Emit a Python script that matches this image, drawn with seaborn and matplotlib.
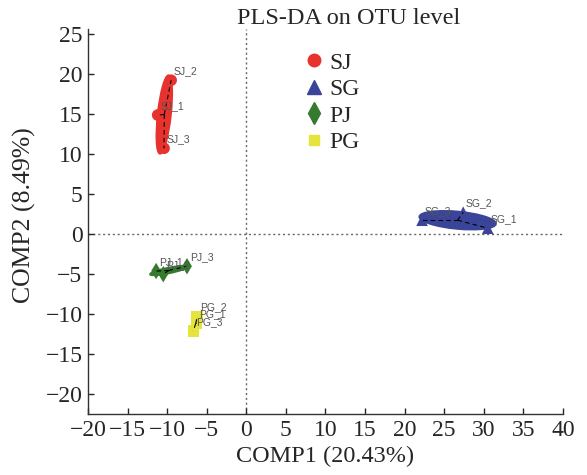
import numpy as np
import pandas as pd
import matplotlib
matplotlib.use("Agg")
import matplotlib.pyplot as plt
from matplotlib import font_manager
from matplotlib.patches import Ellipse
from matplotlib.lines import Line2D
import seaborn as sns

# sample scores
samples = ["SJ_1", "SJ_2", "SJ_3", "SG_1", "SG_2", "SG_3",
           "PJ_1", "PJ_2", "PJ_3", "PG_1", "PG_2", "PG_3"]
groups = ["SJ"] * 3 + ["SG"] * 3 + ["PJ"] * 3 + ["PG"] * 3
comp1 = [-11.2, -9.5, -10.4, 30.5, 27.4, 22.2, -11.4, -10.5, -7.5, -6.3, -6.2, -6.7]
comp2 = [14.9, 19.25, 10.75, 0.75, 2.75, 1.75, -4.6, -5.0, -4.0, -11.1, -10.3, -12.1]

group_order = ["SJ", "SG", "PJ", "PG"]
colors = {"SJ": "#e8322e", "SG": "#3a4599", "PJ": "#357a2e", "PG": "#e4e43c"}
markers = {"SJ": "o", "SG": "^", "PJ": "d", "PG": "s"}
leg_size = {"SJ": 9, "SG": 10, "PJ": 11, "PG": 7}

df = pd.DataFrame({"Sample": samples, "Group": groups, "COMP1": comp1, "COMP2": comp2})

sns.set_style("ticks")
names = sorted({f.name for f in font_manager.fontManager.ttflist})
serif = [n for n in names if "Liberation Serif" in n or "Times" in n] or ["DejaVu Serif"]
sans = [n for n in names if "Liberation Sans" in n and "Narrow" not in n] or ["DejaVu Sans"]
plt.rcParams["font.family"] = [serif[0], "DejaVu Serif"]

fig = plt.figure(figsize=(5.87, 4.75), dpi=100)
ax = fig.add_axes([0.15, 0.128, 0.809, 0.81])

# reference lines
ax.axvline(0, color="#666666", linestyle=(0, (1.5, 2)), linewidth=1.0, zorder=0)
ax.axhline(0, color="#666666", linestyle=(0, (1.5, 2)), linewidth=1.0, zorder=0)

# confidence ellipses and centroid lines
for g in group_order:
    sub = df[df["Group"] == g]
    xy = sub[["COMP1", "COMP2"]].to_numpy()
    cen = xy.mean(axis=0)
    cov = np.cov(xy.T)
    vals, vecs = np.linalg.eigh(cov)
    angle = np.degrees(np.arctan2(vecs[1, 1], vecs[0, 1]))
    w, h = 2 * 1.15 * np.sqrt(vals[1]), 2 * 1.15 * np.sqrt(max(vals[0], 0.05))
    ax.add_patch(Ellipse(cen, w, h, angle=angle, facecolor=colors[g],
                         edgecolor=colors[g], linewidth=1.5, zorder=1))
    for x, y in xy:
        ax.plot([cen[0], x], [cen[1], y], color="black", linestyle=(0, (4, 3)),
                linewidth=0.8, zorder=3)

sns.scatterplot(data=df, x="COMP1", y="COMP2", hue="Group", style="Group",
                hue_order=group_order, style_order=group_order,
                palette=colors, markers=markers, s=70, edgecolor="none",
                legend=False, ax=ax, zorder=2)

for _, r in df.iterrows():
    ax.annotate(r["Sample"], (r["COMP1"], r["COMP2"]), xytext=(2, 3),
                textcoords="offset points", fontsize=7.5, color="#555555",
                family=sans[0], ha="left", va="bottom", zorder=4)

ax.set_xlim(-20, 40)
ax.set_ylim(-22.5, 25.6)
ax.set_xticks(np.arange(-20, 41, 5))
ax.set_yticks(np.arange(-20, 26, 5))
ax.set_xticklabels([str(v).replace("-", "\u2212") for v in range(-20, 41, 5)])
ax.set_yticklabels([str(v).replace("-", "\u2212") for v in range(-20, 26, 5)])
ax.tick_params(direction="in", labelsize=17, length=4, width=1, pad=4)
for s in ["top", "right"]:
    ax.spines[s].set_visible(False)
for s in ["left", "bottom"]:
    ax.spines[s].set_linewidth(1.0)
    ax.spines[s].set_color("#333333")

ax.set_xlabel("COMP1 (20.43%)", fontsize=17.5, labelpad=4)
ax.set_ylabel("COMP2 (8.49%)", fontsize=18.5, va="center")
ax.yaxis.set_label_coords(-0.133, 0.517)
fig.text(349 / 587, 1 - 18 / 475, "PLS-DA on OTU level", ha="center", va="center", fontsize=17.5)

handles = [Line2D([], [], linestyle="none", marker=markers[g], color=colors[g],
                  markersize=leg_size[g]) for g in group_order]
fig.legend(handles, group_order, loc="upper left",
           bbox_to_anchor=(302 / 587, 1 - 52 / 475), borderaxespad=0, borderpad=0,
           frameon=False, fontsize=17, handletextpad=0.14, labelspacing=0.21,
           handlelength=1.0)

fig.savefig("out.png", dpi=100)
